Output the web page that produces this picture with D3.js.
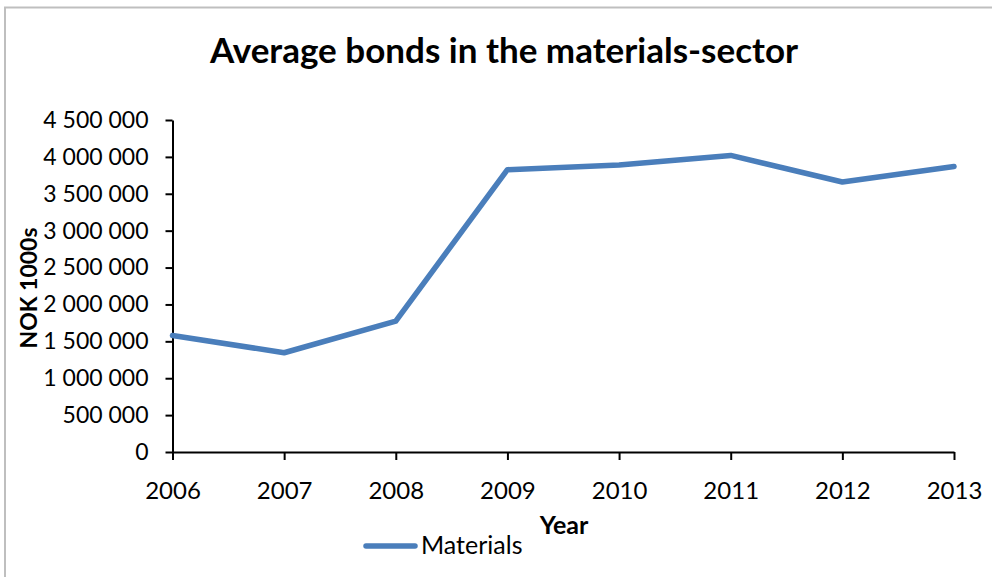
<!DOCTYPE html>
<html>
<head>
<meta charset="utf-8">
<script src="https://cdn.jsdelivr.net/npm/d3@7"></script>
<style>
  html, body { margin: 0; padding: 0; background: #fff; overflow: hidden; }
  svg { display: block; }
  text { font-family: Lato, "Open Sans", sans-serif; fill: #000; }
</style>
</head>
<body>
<svg id="chart" width="992" height="577"></svg>
<script>
// Average bonds held by companies in the materials sector, NOK 1000s
const years = [2006, 2007, 2008, 2009, 2010, 2011, 2012, 2013];
const materials = [1580000, 1345000, 1775000, 3827000, 3889000, 4020000, 3659000, 3871000];
const yTicks = [0, 500000, 1000000, 1500000, 2000000, 2500000, 3000000, 3500000, 4000000, 4500000];

const svg = d3.select("#chart");
const W = 992, H = 577;
const plot = { left: 172.5, right: 954, top: 120, bottom: 452 };

// outer chart frame (runs past the right and bottom edges)
svg.append("path")
  .attr("d", `M${W + 10},7.5 H5 V${H + 10}`)
  .attr("fill", "none").attr("stroke", "#bfbfbf").attr("stroke-width", 2);

const x = d3.scalePoint().domain(years).range([plot.left, plot.right]);
const y = d3.scaleLinear().domain([0, 4500000]).range([plot.bottom, plot.top]);

// space-separated thousands: 4 500 000
const fmt = d3.formatLocale({ decimal: ",", thousands: "\u00a0", grouping: [3], currency: ["", ""] }).format(",d");

// y axis
const yAxis = svg.append("g")
  .attr("transform", `translate(${plot.left},0)`)
  .call(d3.axisLeft(y).tickValues(yTicks).tickFormat(fmt).tickSize(7).tickSizeOuter(0).tickPadding(17));
yAxis.select(".domain").attr("stroke", "#000").attr("stroke-width", 2);
yAxis.selectAll(".tick line").attr("stroke", "#000").attr("stroke-width", 2);
yAxis.selectAll(".tick text")
  .attr("font-size", 23).attr("font-family", "Lato, sans-serif").attr("fill", "#000");

// x axis
const xAxis = svg.append("g")
  .attr("transform", `translate(0,${plot.bottom})`)
  .call(d3.axisBottom(x).tickSize(8).tickSizeOuter(0).tickPadding(22).tickFormat(d3.format("d")));
xAxis.select(".domain").attr("stroke", "#000").attr("stroke-width", 2);
xAxis.selectAll(".tick line").attr("stroke", "#000").attr("stroke-width", 2);
xAxis.selectAll(".tick text")
  .attr("font-size", 24).attr("font-family", "Lato, sans-serif").attr("fill", "#000");

// series line
const line = d3.line().x((d, i) => x(years[i])).y(d => y(d));
svg.append("path")
  .datum(materials)
  .attr("d", line)
  .attr("fill", "none")
  .attr("stroke", "#4a7ebb")
  .attr("stroke-width", 5.5)
  .attr("stroke-linejoin", "round")
  .attr("stroke-linecap", "round");

// title
svg.append("text")
  .attr("x", 504).attr("y", 63)
  .attr("text-anchor", "middle")
  .attr("font-size", 35).attr("font-weight", "bold")
  .text("Average bonds in the materials-sector");

// axis titles
svg.append("text")
  .attr("transform", "translate(37,288) rotate(-90)")
  .attr("text-anchor", "middle")
  .attr("font-size", 23).attr("font-weight", "bold")
  .text("NOK 1000s");

svg.append("text")
  .attr("x", 564).attr("y", 534)
  .attr("text-anchor", "middle")
  .attr("font-size", 25).attr("font-weight", "bold")
  .text("Year");

// legend
svg.append("line")
  .attr("x1", 366).attr("x2", 415).attr("y1", 546).attr("y2", 546)
  .attr("stroke", "#4a7ebb").attr("stroke-width", 5.5).attr("stroke-linecap", "round");
svg.append("text")
  .attr("x", 421).attr("y", 554)
  .attr("font-size", 25)
  .text("Materials");
</script>
</body>
</html>
